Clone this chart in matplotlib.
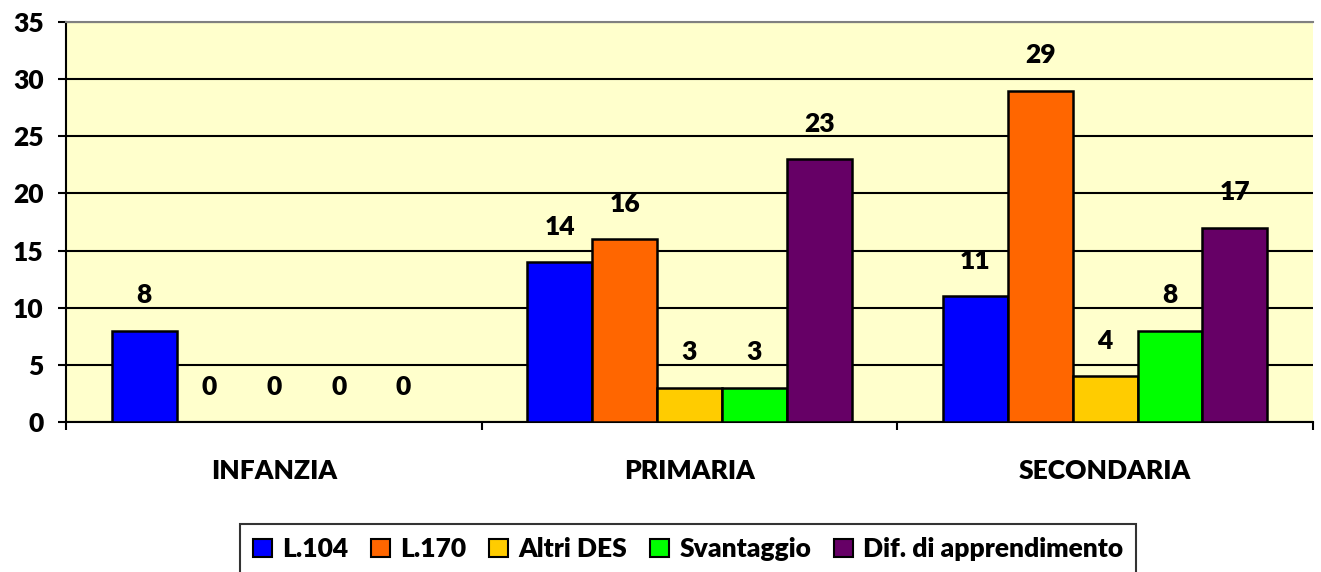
import matplotlib
matplotlib.use("Agg")
import matplotlib.pyplot as plt
import numpy as np

categories = ["INFANZIA", "PRIMARIA", "SECONDARIA"]
series_names = ["L.104", "L.170", "Altri DES", "Svantaggio", "Dif. di apprendimento"]
l104 = [8, 14, 11]
l170 = [0, 16, 29]
altri = [0, 3, 4]
svant = [0, 3, 8]
dif = [0, 23, 17]
series = [l104, l170, altri, svant, dif]
colors = ["#0000FF", "#FF6600", "#FFCC00", "#00FF00", "#660066"]
yticks = [0, 5, 10, 15, 20, 25, 30, 35]

plt.rcParams['font.family'] = ['Lato', 'DejaVu Sans']
FW = 'heavy'
FS = 19

fig = plt.figure(figsize=(13.21, 5.72), dpi=100)
ax = fig.add_axes([66/1321, 1 - 422/572, (1313-66)/1321, 400/572])
ax.set_facecolor("#FFFFCC")

x = np.arange(len(categories))
w = 0.156
for i, (vals, c, n) in enumerate(zip(series, colors, series_names)):
    pos = x + (i - 2) * w
    ax.bar(pos, vals, width=w, color=c, edgecolor="black", linewidth=1.8, label=n, zorder=3)
    for p, v in zip(pos, vals):
        ax.annotate(str(v), (p, v), xytext=(0, 25.5), textcoords="offset points",
                    ha="center", va="center", fontsize=FS, fontweight=FW, zorder=4)

ax.set_xlim(-0.5, 2.5)
ax.set_ylim(0, 35)
ax.set_yticks(yticks)
ax.set_yticklabels([str(t) for t in yticks], fontsize=FS, fontweight=FW)
ax.yaxis.grid(True, color="black", linewidth=1.5, zorder=0)
ax.set_axisbelow(True)
ax.tick_params(axis="y", direction="out", length=6, width=1.5, pad=10)

ax.set_xticks([-0.5, 0.5, 1.5, 2.5])
ax.set_xticklabels([])
ax.tick_params(axis="x", direction="out", length=6, width=1.5)
for xi, name in zip(x, categories):
    ax.text(xi, -4.3, name, ha="center", va="center", fontsize=FS, fontweight=FW,
            transform=ax.transData)

for s in ["left", "bottom"]:
    ax.spines[s].set_linewidth(1.5)
    ax.spines[s].set_color("black")
ax.spines["top"].set_color("#808080")
ax.spines["top"].set_linewidth(1.5)
ax.spines["right"].set_visible(False)

leg = fig.legend(loc="center", bbox_to_anchor=(688/1321, 1 - 549/572), ncol=5,
                 frameon=True, fancybox=False, edgecolor="black",
                 handlelength=0.72, handleheight=0.7, handletextpad=0.4, columnspacing=0.85,
                 borderpad=0.5, prop={'weight': FW, 'size': FS})
leg.get_frame().set_linewidth(1.5)
for h in leg.legend_handles:
    h.set_linewidth(1.5)

fig.savefig("out.png", dpi=100, facecolor="white")
